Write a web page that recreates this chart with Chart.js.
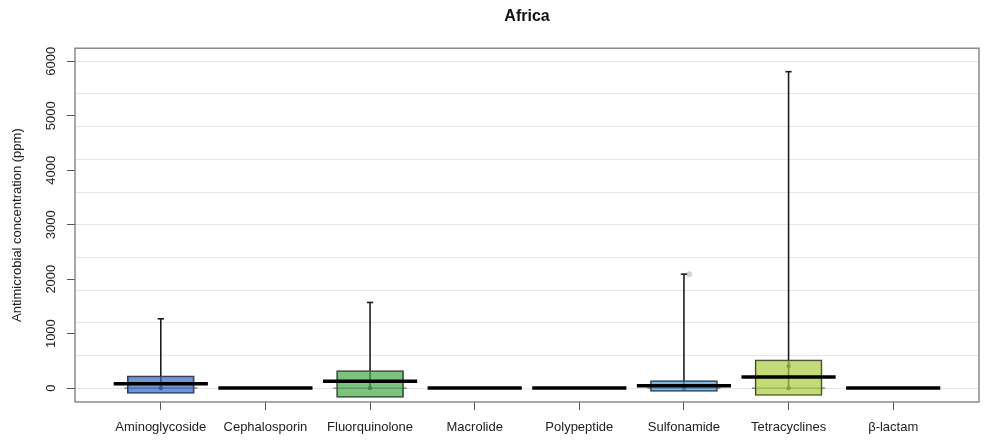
<!DOCTYPE html>
<html>
<head>
<meta charset="utf-8">
<title>Africa</title>
<script src="https://cdn.jsdelivr.net/npm/chart.js@4.4.1/dist/chart.umd.min.js"></script>
<style>
  html, body { margin: 0; padding: 0; background: #ffffff; }
  #wrap { width: 984px; height: 441px; }
</style>
</head>
<body>
<div id="wrap"><canvas id="boxChart"></canvas></div>
<script>
// Values (ppm)
const categories = ['Aminoglycoside', 'Cephalosporin', 'Fluorquinolone', 'Macrolide',
  'Polypeptide', 'Sulfonamide', 'Tetracyclines', 'β-lactam'];
const q1Values = [-99, 0, -172, 0, 0, -62, -136, 0];
const q3Values = [226, 0, 323, 0, 0, 139, 519, 0];
const medianValues = [79, 0, 128, 0, 0, 42, 202, 0];
const whiskerHigh = [1272, null, 1572, null, null, 2092, 5809, null];
const whiskerLow = [0, null, 0, null, null, 0, 0, null];
const dotPositions = [1, 3, 6, 7, 7];
const dotValues = [0, 0, 0, 0, 404];
const outlierPositions = [6.05];
const outlierValues = [2092];
const yTickValues = [0, 1000, 2000, 3000, 4000, 5000, 6000];
const yGridValues = [0, 600, 1200, 1800, 2400, 3000, 3600, 4200, 4800, 5400, 6000];
const boxColors = ['rgba(53,105,197,0.7)', 'rgba(0,0,0,0)', 'rgba(69,169,74,0.7)', 'rgba(0,0,0,0)',
  'rgba(0,0,0,0)', 'rgba(62,155,226,0.7)', 'rgba(169,205,62,0.7)', 'rgba(0,0,0,0)'];

const FONT = '"Liberation Sans", Arial, Helvetica, sans-serif';
Chart.defaults.font.family = FONT;

function strokeLine(ctx, x1, y1, x2, y2) {
  ctx.beginPath();
  ctx.moveTo(x1, y1);
  ctx.lineTo(x2, y2);
  ctx.stroke();
}

// Whiskers, caps, medians, frame and rotated y labels
const boxPartsPlugin = {
  id: 'boxParts',
  beforeDatasetsDraw(chart) {
    const { ctx, scales: { x, y } } = chart;
    ctx.save();
    categories.forEach((cat, i) => {
      if (whiskerHigh[i] == null) return;
      const cx = x.getPixelForValue(i + 1);
      ctx.strokeStyle = '#1e1e1e';
      ctx.lineWidth = 1.6;
      strokeLine(ctx, cx, y.getPixelForValue(whiskerHigh[i]), cx, y.getPixelForValue(whiskerLow[i]));
      ctx.strokeStyle = '#555555';
      ctx.lineWidth = 1;
      const yl = y.getPixelForValue(whiskerLow[i]);
      strokeLine(ctx, x.getPixelForValue(i + 1 - 0.35), yl, x.getPixelForValue(i + 1 + 0.35), yl);
    });
    ctx.restore();
  },
  afterDatasetsDraw(chart) {
    const { ctx, scales: { x, y } } = chart;
    ctx.save();
    categories.forEach((cat, i) => {
      if (whiskerHigh[i] != null) {
        const yh = y.getPixelForValue(whiskerHigh[i]);
        ctx.strokeStyle = '#1e1e1e';
        ctx.lineWidth = 1.6;
        strokeLine(ctx, x.getPixelForValue(i + 1 - 0.03), yh, x.getPixelForValue(i + 1 + 0.03), yh);
      }
      const ym = y.getPixelForValue(medianValues[i]);
      ctx.strokeStyle = '#000000';
      ctx.lineWidth = 3.5;
      strokeLine(ctx, x.getPixelForValue(i + 1 - 0.45), ym, x.getPixelForValue(i + 1 + 0.45), ym);
    });
    ctx.restore();
  },
  afterDraw(chart) {
    const { ctx, chartArea: a, scales: { y } } = chart;
    ctx.save();
    ctx.strokeStyle = '#7a7a7a';
    ctx.lineWidth = 1.3;
    ctx.strokeRect(a.left, a.top, a.right - a.left, a.bottom - a.top);
    ctx.fillStyle = '#222222';
    ctx.font = '13px ' + FONT;
    ctx.textAlign = 'center';
    ctx.textBaseline = 'middle';
    yTickValues.forEach(v => {
      ctx.save();
      ctx.translate(a.left - 24, y.getPixelForValue(v));
      ctx.rotate(-Math.PI / 2);
      ctx.fillText(String(v), 0, 0);
      ctx.restore();
    });
    ctx.restore();
  }
};

const allYTicks = [...new Set([...yTickValues, ...yGridValues])].sort((a, b) => a - b);

new Chart(document.getElementById('boxChart'), {
  data: {
    datasets: [
      {
        type: 'bar',
        label: 'IQR',
        data: categories.map((c, i) => ({ x: i + 1, y: [q1Values[i], q3Values[i]] })),
        backgroundColor: boxColors,
        borderColor: '#3a3a3a',
        borderWidth: 1.2,
        borderSkipped: false,
        barThickness: 67,
        order: 1
      },
      {
        type: 'scatter',
        label: 'points',
        data: dotPositions.map((p, i) => ({ x: p, y: dotValues[i] })),
        pointRadius: 2.2,
        pointBackgroundColor: '#333333',
        pointBorderWidth: 0,
        order: 2
      },
      {
        type: 'scatter',
        label: 'outliers',
        data: outlierPositions.map((p, i) => ({ x: p, y: outlierValues[i] })),
        pointRadius: 3,
        pointBackgroundColor: '#d4d4d4',
        pointBorderWidth: 0,
        order: 0
      }
    ]
  },
  options: {
    responsive: true,
    maintainAspectRatio: false,
    animation: false,
    layout: { padding: { left: 0, right: 5, top: 0, bottom: 0 } },
    plugins: {
      legend: { display: false },
      tooltip: { enabled: false },
      title: {
        display: true,
        text: 'Africa',
        fullSize: false,
        color: '#111111',
        font: { size: 16, weight: 'bold' },
        padding: { top: 7, bottom: 22 }
      }
    },
    scales: {
      x: {
        type: 'linear',
        min: 0.18,
        max: 8.82,
        offset: false,
        afterBuildTicks: scale => { scale.ticks = categories.map((c, i) => ({ value: i + 1 })); },
        afterFit: scale => { scale.height = 39; },
        border: { display: false },
        grid: { offset: false, drawOnChartArea: false, drawTicks: true, tickLength: 8, tickColor: '#555555', lineWidth: 1 },
        ticks: {
          autoSkip: false,
          maxRotation: 0,
          padding: 10,
          color: '#222222',
          font: { size: 13 },
          callback: v => categories[v - 1]
        }
      },
      y: {
        type: 'linear',
        min: -255,
        max: 6240,
        afterBuildTicks: scale => { scale.ticks = allYTicks.map(v => ({ value: v })); },
        afterFit: scale => { scale.width = 75; },
        border: { display: false },
        grid: {
          drawTicks: true,
          tickLength: 8,
          lineWidth: 1,
          color: c => (c.tick && yGridValues.includes(c.tick.value)) ? '#e6e6e6' : 'rgba(0,0,0,0)',
          tickColor: c => (c.tick && yTickValues.includes(c.tick.value)) ? '#555555' : 'rgba(0,0,0,0)'
        },
        ticks: { display: false },
        title: {
          display: true,
          text: 'Antimicrobial concentration (ppm)',
          color: '#222222',
          font: { size: 13 },
          padding: { top: 10, bottom: 0 }
        }
      }
    }
  },
  plugins: [boxPartsPlugin]
});
</script>
</body>
</html>
